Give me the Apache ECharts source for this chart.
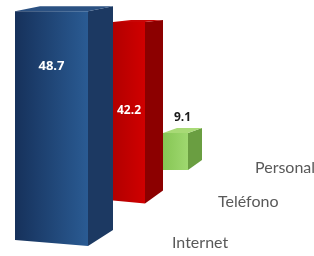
<!DOCTYPE html>
<html><head><meta charset="utf-8">
<script src="https://cdn.jsdelivr.net/npm/echarts@6/dist/echarts.min.js"></script>
<style>html,body{margin:0;padding:0;background:#fff}#c{width:314px;height:256px}</style>
</head><body><div id="c"></div>
<script>
// ---- data ----
const categories = ['Internet', 'Teléfono', 'Personal'];
const values = [48.7, 42.2, 9.1];
const valueLabels = ['48.7', '42.2', '9.1'];

// ---- styling / layout (not data) ----
const grids = [
  {left: 15, width: 73, top: 5, bottom: 13, max: 50},
  {left: 113, width: 32, top: 5, bottom: 54, max: 46.2},
  {left: 163, width: 25, top: 5, bottom: 86, max: 40.6}
];
const shapes = [
  {dx: 25, riseTop: 5, riseBot: 16, slant: 3, labDy: 55, labColor: '#ffffff', labSize: 13, labInside: true, catDx: 84, catDy: 0,
   front: ['#16315b', '#2a5b93'], side: '#1c3962', top: '#2b5182'},
  {dx: 18, riseTop: 2, riseBot: 13, slant: 1.5, labDy: 89, labColor: '#ffffff', labSize: 12, labInside: true, catDx: 73, catDy: 0,
   front: ['#b20000', '#d00000'], side: '#8c0000', top: '#c80606'},
  {dx: 14, riseTop: 5, riseBot: 10, slant: 0, labDy: -15, labColor: '#1a1a1a', labSize: 12, labInside: false, catDx: 67, catDy: -2,
   front: ['#86c654', '#9fd870'], side: '#6a9e41', top: '#a8da76'}
];

function renderItem(params, api) {
  const s = shapes[params.seriesIndex];
  const v = api.value(1);
  const topPt = api.coord([api.value(0), v]);
  const basePt = api.coord([api.value(0), 0]);
  const w = api.size([1, 0])[0];
  const x0 = topPt[0] - w / 2, x1 = topPt[0] + w / 2;
  const yT = topPt[1], yB = basePt[1];
  const children = [];
  children.push({type: 'polygon', shape: {points: [[x1, yT], [x1 + s.dx, yT - s.riseTop], [x1 + s.dx, yB + s.slant - s.riseBot], [x1, yB + s.slant]]},
    style: {fill: s.side}});
  children.push({type: 'polygon', shape: {points: [[x0, yT], [x0 + s.dx, yT - s.riseTop], [x1 + s.dx, yT - s.riseTop], [x1, yT]]},
    style: {fill: s.top}});
  children.push({type: 'polygon', shape: {points: [[x0, yT], [x1, yT], [x1, yB + s.slant], [x0, yB - s.slant]]},
    style: {fill: {type: 'linear', x: 0, y: 0, x2: 1, y2: 0, colorStops: [{offset: 0, color: s.front[0]}, {offset: 1, color: s.front[1]}]}}});
  const lx = s.labInside ? (x0 + x1) / 2 : (x0 + x1 + s.dx) / 2;
  children.push({type: 'text', x: lx, y: yT + s.labDy,
    style: {text: valueLabels[params.seriesIndex], fill: s.labColor,
      font: 'bold ' + s.labSize + 'px "Open Sans", sans-serif', align: 'center', verticalAlign: 'middle'}});
  children.push({type: 'text', x: x1 + s.catDx, y: yB + s.catDy,
    style: {text: categories[params.seriesIndex], fill: '#595959',
      font: '16px Lato, sans-serif', align: 'left', verticalAlign: 'middle'}});
  return {type: 'group', children};
}

const chart = echarts.init(document.getElementById('c'));
const option = {
  animation: false,
  grid: grids.map(g => ({left: g.left, width: g.width, top: g.top, bottom: g.bottom})),
  xAxis: grids.map((g, i) => ({type: 'category', gridIndex: i, data: [categories[i]], show: false})),
  yAxis: grids.map((g, i) => ({type: 'value', gridIndex: i, min: 0, max: g.max, show: false})),
  series: values.map((v, i) => ({
    type: 'custom', xAxisIndex: i, yAxisIndex: i, renderItem,
    data: [[0, v]], clip: false
  }))
};
chart.setOption(option);
</script></body></html>
